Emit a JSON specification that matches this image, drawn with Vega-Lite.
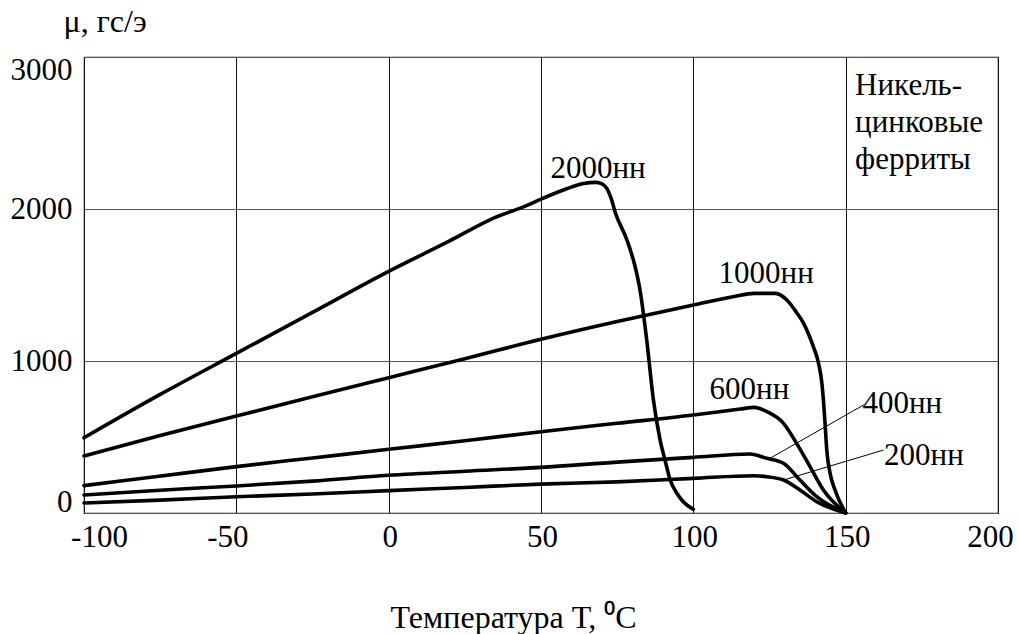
{
  "$schema": "https://vega.github.io/schema/vega-lite/v6.json",
  "width": 914,
  "height": 456,
  "autosize": {"type": "none"},
  "padding": {"left": 84, "top": 57, "right": 20, "bottom": 121},
  "background": "white",
  "config": {
    "view": {"stroke": "#222", "strokeWidth": 1.2},
    "font": "Liberation Serif",
    "text": {"font": "Liberation Serif"}
  },
  "datasets": {
    "curves": [
      {"grade": "2000нн", "T": -100, "mu": 495},
      {"grade": "2000нн", "T": -75, "mu": 780},
      {"grade": "2000нн", "T": -50, "mu": 1050},
      {"grade": "2000нн", "T": -25, "mu": 1320},
      {"grade": "2000нн", "T": 0, "mu": 1590},
      {"grade": "2000нн", "T": 20, "mu": 1790},
      {"grade": "2000нн", "T": 35, "mu": 1945},
      {"grade": "2000нн", "T": 45, "mu": 2020},
      {"grade": "2000нн", "T": 50, "mu": 2065},
      {"grade": "2000нн", "T": 58, "mu": 2130},
      {"grade": "2000нн", "T": 64, "mu": 2168},
      {"grade": "2000нн", "T": 68, "mu": 2175},
      {"grade": "2000нн", "T": 70, "mu": 2165},
      {"grade": "2000нн", "T": 71.6, "mu": 2136},
      {"grade": "2000нн", "T": 73.2, "mu": 2059},
      {"grade": "2000нн", "T": 74.3, "mu": 1982},
      {"grade": "2000нн", "T": 78.2, "mu": 1796},
      {"grade": "2000нн", "T": 80.9, "mu": 1620},
      {"grade": "2000нн", "T": 82.5, "mu": 1467},
      {"grade": "2000нн", "T": 84.7, "mu": 1138},
      {"grade": "2000нн", "T": 86.9, "mu": 743},
      {"grade": "2000нн", "T": 89.1, "mu": 480},
      {"grade": "2000нн", "T": 90.7, "mu": 349},
      {"grade": "2000нн", "T": 92.4, "mu": 217},
      {"grade": "2000нн", "T": 94.6, "mu": 130},
      {"grade": "2000нн", "T": 96.7, "mu": 74},
      {"grade": "2000нн", "T": 100, "mu": 25},

      {"grade": "1000нн", "T": -100, "mu": 375},
      {"grade": "1000нн", "T": -75, "mu": 510},
      {"grade": "1000нн", "T": -50, "mu": 638},
      {"grade": "1000нн", "T": -25, "mu": 765},
      {"grade": "1000нн", "T": 0, "mu": 890},
      {"grade": "1000нн", "T": 25, "mu": 1015},
      {"grade": "1000нн", "T": 50, "mu": 1143},
      {"grade": "1000нн", "T": 75, "mu": 1260},
      {"grade": "1000нн", "T": 100, "mu": 1368},
      {"grade": "1000нн", "T": 113, "mu": 1423},
      {"grade": "1000нн", "T": 120, "mu": 1445},
      {"grade": "1000нн", "T": 127, "mu": 1445},
      {"grade": "1000нн", "T": 130.7, "mu": 1401},
      {"grade": "1000нн", "T": 133.5, "mu": 1330},
      {"grade": "1000нн", "T": 136.2, "mu": 1248},
      {"grade": "1000нн", "T": 139.4, "mu": 1094},
      {"grade": "1000нн", "T": 141.1, "mu": 985},
      {"grade": "1000нн", "T": 142.2, "mu": 853},
      {"grade": "1000нн", "T": 142.7, "mu": 743},
      {"grade": "1000нн", "T": 143.3, "mu": 568},
      {"grade": "1000нн", "T": 143.8, "mu": 414},
      {"grade": "1000нн", "T": 144.9, "mu": 261},
      {"grade": "1000нн", "T": 146.5, "mu": 151},
      {"grade": "1000нн", "T": 150, "mu": 0},

      {"grade": "600нн", "T": -100, "mu": 180},
      {"grade": "600нн", "T": -76, "mu": 240},
      {"grade": "600нн", "T": -50, "mu": 305},
      {"grade": "600нн", "T": -25, "mu": 362},
      {"grade": "600нн", "T": 0, "mu": 419},
      {"grade": "600нн", "T": 25, "mu": 475},
      {"grade": "600нн", "T": 50, "mu": 535},
      {"grade": "600нн", "T": 75, "mu": 590},
      {"grade": "600нн", "T": 100, "mu": 645},
      {"grade": "600нн", "T": 115.4, "mu": 684},
      {"grade": "600нн", "T": 120, "mu": 695},
      {"grade": "600нн", "T": 124.1, "mu": 667},
      {"grade": "600нн", "T": 129.6, "mu": 590},
      {"grade": "600нн", "T": 133.9, "mu": 458},
      {"grade": "600нн", "T": 138.3, "mu": 305},
      {"grade": "600нн", "T": 142.7, "mu": 151},
      {"grade": "600нн", "T": 150, "mu": 0},

      {"grade": "400нн", "T": -100, "mu": 118},
      {"grade": "400нн", "T": -75, "mu": 150},
      {"grade": "400нн", "T": -50, "mu": 178},
      {"grade": "400нн", "T": -25, "mu": 210},
      {"grade": "400нн", "T": 0, "mu": 248},
      {"grade": "400нн", "T": 25, "mu": 275},
      {"grade": "400нн", "T": 50, "mu": 300},
      {"grade": "400нн", "T": 75, "mu": 335},
      {"grade": "400нн", "T": 100, "mu": 366},
      {"grade": "400нн", "T": 118.6, "mu": 388},
      {"grade": "400нн", "T": 124.1, "mu": 360},
      {"grade": "400нн", "T": 129.6, "mu": 327},
      {"grade": "400нн", "T": 135, "mu": 217},
      {"grade": "400нн", "T": 140.5, "mu": 107},
      {"grade": "400нн", "T": 150, "mu": 0},

      {"grade": "200нн", "T": -100, "mu": 66},
      {"grade": "200нн", "T": -75, "mu": 85},
      {"grade": "200нн", "T": -50, "mu": 107},
      {"grade": "200нн", "T": -25, "mu": 125},
      {"grade": "200нн", "T": 0, "mu": 147},
      {"grade": "200нн", "T": 25, "mu": 168},
      {"grade": "200нн", "T": 50, "mu": 190},
      {"grade": "200нн", "T": 75, "mu": 205},
      {"grade": "200нн", "T": 100, "mu": 228},
      {"grade": "200нн", "T": 119.8, "mu": 245},
      {"grade": "200нн", "T": 124.1, "mu": 239},
      {"grade": "200нн", "T": 129.6, "mu": 217},
      {"grade": "200нн", "T": 135, "mu": 151},
      {"grade": "200нн", "T": 140.5, "mu": 74},
      {"grade": "200нн", "T": 150, "mu": 0}
    ],
    "labels": [
      {"label": "2000нн", "T": 68.7, "mu": 2263},
      {"label": "1000нн", "T": 123.9, "mu": 1572},
      {"label": "600нн", "T": 118.4, "mu": 809},
      {"label": "400нн", "T": 168.6, "mu": 717},
      {"label": "200нн", "T": 175.7, "mu": 375}
    ],
    "leaders": [
      {"label": "400нн", "T": 125.2, "mu": 360, "T2": 155.9, "mu2": 711},
      {"label": "200нн", "T": 129.6, "mu": 217, "T2": 162.4, "mu2": 414}
    ],
    "note": [
      {"text": "Никель-\nцинковые\nферриты", "T": 153.1, "mu": 2750}
    ]
  },
  "encoding": {
    "x": {
      "field": "T",
      "type": "quantitative",
      "scale": {"domain": [-100, 200], "nice": false, "zero": false},
      "axis": {
        "values": [-100, -50, 0, 50, 100, 150, 200],
        "labelExpr": "'' + datum.value",
        "labelFlush": false,
        "labelOverlap": false,
        "grid": true,
        "gridColor": "#111",
        "gridWidth": 1,
        "domain": false,
        "ticks": false,
        "labelFont": "Liberation Serif",
        "labelFontSize": 31,
        "labelColor": "black",
        "labelPadding": 9,
        "labelOffset": {
          "condition": [
            {"test": "datum.value == -100", "value": 15},
            {"test": "datum.value == -50", "value": -9},
            {"test": "datum.value == 200", "value": -8}
          ],
          "value": 1
        },
        "title": "Температура Т, ⁰С",
        "titleFont": "Liberation Serif",
        "titleFontSize": 32,
        "titleFontWeight": "normal",
        "titleColor": "black",
        "titleAlign": "center",
        "titleBaseline": "alphabetic",
        "titleX": 429,
        "titleY": 114
      }
    },
    "y": {
      "field": "mu",
      "type": "quantitative",
      "scale": {"domain": [0, 3000], "nice": false},
      "axis": {
        "values": [0, 1000, 2000, 3000],
        "labelExpr": "'' + datum.value",
        "labelFlush": false,
        "labelOverlap": false,
        "grid": true,
        "gridColor": "#555",
        "gridWidth": 1,
        "domain": false,
        "ticks": false,
        "labelFont": "Liberation Serif",
        "labelFontSize": 31,
        "labelColor": "black",
        "labelPadding": 12,
        "labelOffset": {
          "condition": [
            {"test": "datum.value == 3000", "value": 13},
            {"test": "datum.value == 0", "value": -11}
          ],
          "value": 0
        },
        "title": "μ, гс/э",
        "titleFont": "Liberation Serif",
        "titleFontSize": 32,
        "titleFontWeight": "normal",
        "titleColor": "black",
        "titleAngle": 0,
        "titleAlign": "left",
        "titleBaseline": "alphabetic",
        "titleX": -21,
        "titleY": -26
      }
    }
  },
  "layer": [
    {
      "data": {"name": "curves"},
      "mark": {"type": "line", "interpolate": "monotone", "strokeWidth": 3.6, "color": "black", "strokeJoin": "round", "strokeCap": "round"},
      "encoding": {"detail": {"field": "grade"}}
    },
    {
      "data": {"name": "leaders"},
      "mark": {"type": "rule", "color": "black", "strokeWidth": 1},
      "encoding": {
        "x2": {"field": "T2"},
        "y2": {"field": "mu2"}
      }
    },
    {
      "data": {"name": "labels"},
      "mark": {"type": "text", "font": "Liberation Serif", "fontSize": 31, "align": "center", "baseline": "middle", "color": "black"},
      "encoding": {"text": {"field": "label"}}
    },
    {
      "data": {"name": "note"},
      "mark": {"type": "text", "font": "Liberation Serif", "fontSize": 31, "align": "left", "baseline": "alphabetic", "lineBreak": "\n", "lineHeight": 37, "color": "black"},
      "encoding": {"text": {"field": "text"}}
    }
  ]
}
